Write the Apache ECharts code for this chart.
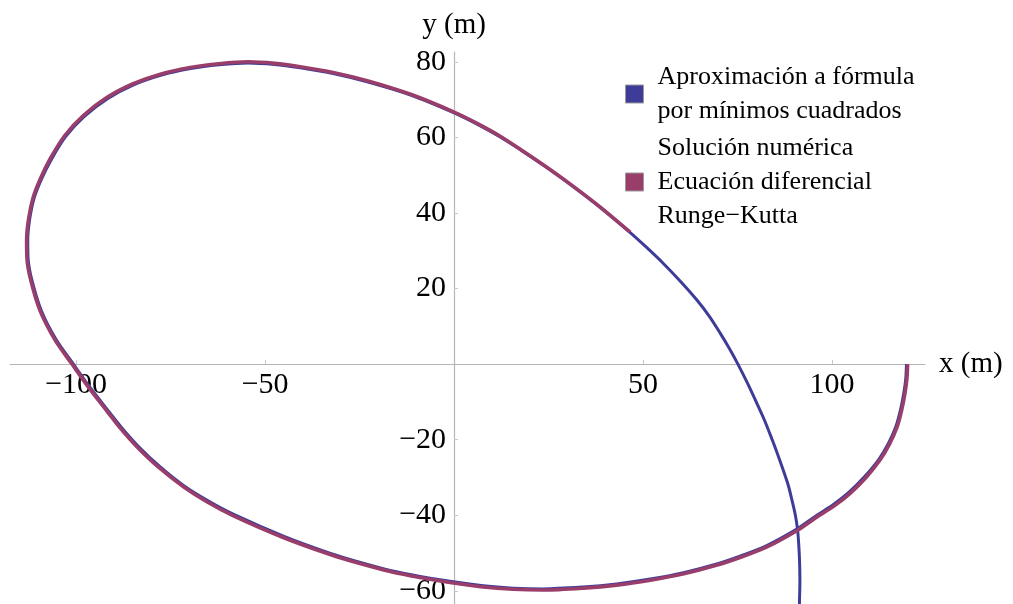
<!DOCTYPE html>
<html>
<head>
<meta charset="utf-8">
<script src="https://cdn.jsdelivr.net/npm/echarts@6/dist/echarts.min.js"></script>
<style>
  html, body { margin: 0; padding: 0; background: #fff; }
  #chart { width: 1013px; height: 604px; }
</style>
</head>
<body>
<div id="chart"></div>
<script>
// Runge-Kutta trajectory, traced clockwise from the launch point (metres)
const rkX = [120.0, 119.8, 119.3, 118.4, 117.2, 115.2, 112.7, 109.0, 104.8, 100.5, 96.0, 91.0, 82.8, 76.2,
  69.6, 60.8, 51.9, 43.0, 34.1, 23.5, 15.6, 7.7, -1.1, -9.0, -16.9, -24.9, -32.8, -45.2, -58.5, -65.3,
  -71.7, -78.2, -84.0, -88.2, -91.8, -96.6, -101.1, -105.6, -109.5, -112.0, -113.0, -113.1, -112.6,
  -111.4, -109.5, -106.9, -103.0, -98.1, -91.8, -84.9, -77.5, -69.8, -62.2, -54.5, -47.5, -40.7,
  -32.0, -23.0, -11.5, 0.0, 6.1, 12.2, 18.8, 25.4, 32.0, 38.6, 46.6];
const rkY = [0.0, -4.0, -7.7, -12.3, -16.7, -21.2, -25.4, -30.0, -34.2, -37.6, -40.5, -43.9, -48.4, -51.0,
  -53.2, -55.5, -57.2, -58.5, -59.3, -59.8, -59.6, -59.0, -57.8, -56.5, -54.9, -52.8, -50.4, -45.9, -40.1, -36.5,
  -32.4, -27.3, -21.8, -17.1, -12.5, -6.3, 0.0, 6.4, 14.0, 22.2, 27.8, 32.8, 38.3,
  44.0, 49.0, 54.3, 60.5, 65.8, 70.6, 74.2, 76.8, 78.5, 79.5, 80.0, 79.6, 78.7,
  77.2, 75.0, 71.4, 66.7, 63.7, 60.3, 56.0, 51.5, 46.7, 41.6, 34.9];

// Least-squares fitted formula, evaluated over a longer time span
const fitX = [119.7, 119.5, 119.0, 118.1, 116.9, 114.9, 112.4, 108.7, 104.5, 100.2, 95.7, 90.8, 82.6, 76.0,
  69.5, 60.7, 51.9, 43.0, 34.1, 23.5, 15.6, 7.7, -1.1, -9.0, -16.9, -24.8, -32.7, -45.0, -58.3, -65.1,
  -71.5, -77.9, -83.7, -87.9, -91.5, -96.3, -100.8, -105.3, -109.2, -111.7, -112.7, -112.8, -112.3,
  -111.1, -109.2, -106.6, -102.8, -97.9, -91.6, -84.8, -77.4, -69.7, -62.2, -54.5, -47.5, -40.7,
  -32.0, -23.0, -11.5, 0.0, 6.1, 12.2, 18.8, 25.4, 32.0, 38.6, 46.6,
  50.8, 55.3, 59.8, 64.3, 67.5, 70.4, 72.8, 75.1, 77.5, 79.7, 82.1, 84.2, 85.7, 87.1, 88.4, 89.4,
  90.3, 90.9, 91.2, 91.4, 91.5, 91.4, 91.35];
const fitY = [0.0, -4.0, -7.6, -12.2, -16.5, -21.0, -25.2, -29.7, -33.9, -37.3, -40.2, -43.6, -48.1, -50.7,
  -52.9, -55.2, -56.9, -58.2, -59.0, -59.5, -59.3, -58.7, -57.5, -56.2, -54.6, -52.5, -50.1, -45.6, -39.8, -36.2,
  -32.2, -27.1, -21.6, -16.9, -12.4, -6.2, 0.1, 6.5, 14.1, 22.2, 27.8, 32.8, 38.3,
  44.0, 48.9, 54.1, 60.2, 65.5, 70.3, 73.9, 76.5, 78.2, 79.2, 79.7, 79.3, 78.4,
  76.9, 74.7, 71.2, 66.5, 63.5, 60.1, 55.9, 51.4, 46.6, 41.5, 34.8,
  31.0, 26.7, 22.0, 16.9, 12.7, 8.2, 4.2, 0.0, -4.8, -9.5, -14.8, -20.1, -24.1, -28.1, -32.0, -36.0,
  -40.0, -44.0, -47.9, -51.9, -57.2, -62.5, -64.6];

const xTicks = [-100, -50, 50, 100];
const yTicks = [-60, -40, -20, 20, 40, 60, 80];

const fitName = 'Aproximación a fórmula\npor mínimos cuadrados';
const rkName = 'Solución numérica\nEcuación diferencial\nRunge\u2212Kutta';

const BLUE = '#3d3d99';
const PURPLE = '#993d6b';
const SERIF = '"Liberation Serif", "DejaVu Serif", serif';

const pairs = (xs, ys) => xs.map((x, i) => [x, ys[i]]);
const minus = v => String(v).replace('-', '\u2212');

// Plot area and axis ranges; axes cross at the origin
const GRID = { left: 10, right: 88, top: 52, bottom: 0 };
const X_MIN = -117.5, X_MAX = 124.6, Y_MIN = -63.5, Y_MAX = 82.6;
const W = 1013, H = 604;
const plotW = W - GRID.left - GRID.right, plotH = H - GRID.top - GRID.bottom;
const xZeroOffset = -plotW * (0 - X_MIN) / (X_MAX - X_MIN);
const yZeroOffset = -plotH * (0 - Y_MIN) / (Y_MAX - Y_MIN);

const axisLine = { show: true, onZero: false, lineStyle: { color: '#b5b5b5', width: 1.2 } };
const nameStyle = { fontFamily: SERIF, fontSize: 29, color: '#000' };

const chart = echarts.init(document.getElementById('chart'), null, { renderer: 'canvas' });
chart.setOption({
  animation: false,
  backgroundColor: '#fff',
  grid: Object.assign({ containLabel: false, outerBoundsMode: 'none' }, GRID),
  xAxis: {
    type: 'value', min: X_MIN, max: X_MAX, position: 'bottom', offset: yZeroOffset,
    axisLine: axisLine, splitLine: { show: false },
    name: 'x (m)', nameLocation: 'end', nameGap: 14, nameTextStyle: nameStyle,
    axisTick: { show: true, customValues: xTicks, length: 4, inside: true, lineStyle: { color: '#c8c8c8' } },
    axisLabel: { customValues: xTicks, formatter: minus, margin: 6,
      fontFamily: SERIF, fontSize: 30, color: '#000' }
  },
  yAxis: {
    type: 'value', min: Y_MIN, max: Y_MAX, position: 'left', offset: xZeroOffset,
    axisLine: axisLine, splitLine: { show: false },
    name: 'y (m)', nameLocation: 'end', nameGap: 12, nameTextStyle: nameStyle,
    axisTick: { show: true, customValues: yTicks, length: 4, inside: true, lineStyle: { color: '#c8c8c8' } },
    axisLabel: { customValues: yTicks, formatter: minus, margin: 8,
      fontFamily: SERIF, fontSize: 30, color: '#000' }
  },
  legend: {
    orient: 'vertical', left: 620, top: 55, itemGap: 3,
    itemWidth: 18, itemHeight: 18, icon: 'rect',
    data: [
      { name: fitName, itemStyle: { color: BLUE, borderColor: '#9a9a9a', borderWidth: 1 } },
      { name: rkName, itemStyle: { color: PURPLE, borderColor: '#9a9a9a', borderWidth: 1 } }
    ],
    textStyle: { fontFamily: SERIF, fontSize: 26, lineHeight: 34, color: '#000', padding: [0, 0, 0, 9] }
  },
  series: [
    { name: fitName, type: 'line', data: pairs(fitX, fitY), showSymbol: false, symbol: 'none',
      smooth: 0.3, color: BLUE, lineStyle: { color: BLUE, width: 3 }, z: 2 },
    { name: rkName, type: 'line', data: pairs(rkX, rkY), showSymbol: false, symbol: 'none',
      smooth: 0.3, color: PURPLE, lineStyle: { color: PURPLE, width: 3.6 }, z: 3 }
  ]
});
</script>
</body>
</html>
